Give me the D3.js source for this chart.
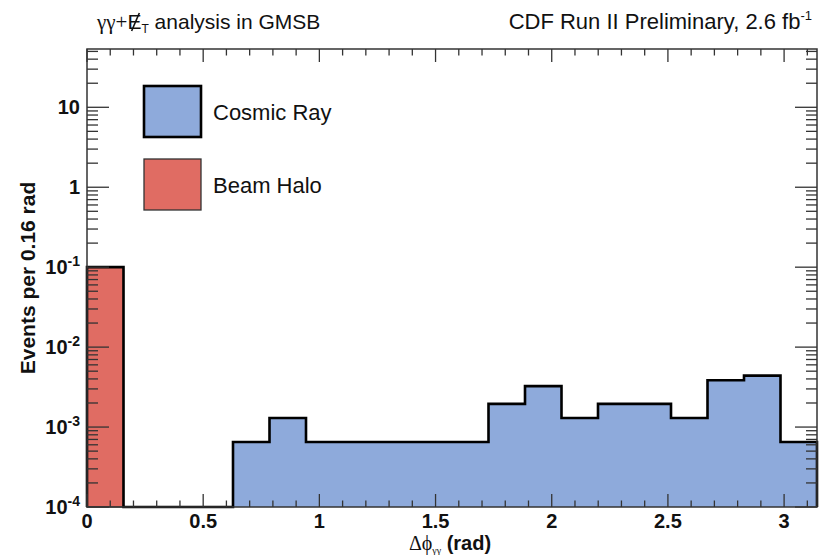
<!DOCTYPE html>
<html>
<head>
<meta charset="utf-8">
<script src="https://cdn.jsdelivr.net/npm/d3@7"></script>
<style>
  body { margin: 0; background: #fff; }
  text { font-family: "Liberation Sans", Arial, sans-serif; fill: #111; }
</style>
</head>
<body>
<div id="chart"></div>
<script>
// histogram content, 20 bins over [0, pi]
const nBins = 20;
const xMax = Math.PI;
const cosmicRay = [0, 0, 0, 0, 6.5e-4, 1.3e-3, 6.5e-4, 6.5e-4, 6.5e-4, 6.5e-4,
	6.5e-4, 1.95e-3, 3.25e-3, 1.3e-3, 1.95e-3, 1.95e-3, 1.3e-3, 3.85e-3, 4.4e-3, 6.5e-4];
const beamHalo = [0.1, 0, 0, 0, 0, 0, 0, 0, 0, 0, 0, 0, 0, 0, 0, 0, 0, 0, 0, 0];
const xTickLabels = [0, 0.5, 1, 1.5, 2, 2.5, 3];
const yDecades = [-4, -3, -2, -1, 0, 1];
const legendItems = ["Cosmic Ray", "Beam Halo"];

const width = 822, height = 555;
const margin = { left: 87, right: 5, top: 49, bottom: 48 };
const blue = "#8eaadb", red = "#e06c63";

const svg = d3.select("#chart").append("svg")
	.attr("width", width)
	.attr("height", height);

const x = d3.scaleLinear().domain([0, xMax]).range([margin.left, width - margin.right]);
const y = d3.scaleLog().domain([1e-4, 53.6]).range([height - margin.bottom, margin.top]).clamp(true);

const binW = xMax / nBins;
const stacked = cosmicRay.map((c, i) => c + beamHalo[i]);

function stepPath(vals) {
	let p = `M${x(0)},${y.range()[0]}`;
	vals.forEach((v, i) => {
		const yy = v > 0 ? y(v) : y.range()[0];
		p += `L${x(i * binW)},${yy}L${x((i + 1) * binW)},${yy}`;
	});
	p += `L${x(xMax)},${y.range()[0]}`;
	return p;
}

// stacked total (cosmic on top of halo)
svg.append("path")
	.attr("d", stepPath(stacked) + "Z")
	.attr("fill", blue)
	.attr("stroke", "none");

// beam halo
beamHalo.forEach((v, i) => {
	if (v <= 0) return;
	svg.append("rect")
		.attr("x", x(i * binW))
		.attr("y", y(v))
		.attr("width", x((i + 1) * binW) - x(i * binW))
		.attr("height", y.range()[0] - y(v))
		.attr("fill", red)
		.attr("stroke", "#333")
		.attr("stroke-width", 1.2);
});

svg.append("path")
	.attr("d", stepPath(stacked))
	.attr("fill", "none")
	.attr("stroke", "#000")
	.attr("stroke-width", 2.6);

// frame and ticks
const x0 = x.range()[0], x1 = x.range()[1];
const yb = y.range()[0], yt = y.range()[1];
const axisColor = "#333";
const g = svg.append("g").attr("stroke", axisColor).attr("stroke-width", 1.3);

d3.range(0, 32).map((i) => i / 10).filter((v) => v <= xMax).forEach((v) => {
	const major = Math.abs(v * 2 - Math.round(v * 2)) < 1e-6;
	const len = major ? 13 : 6.5;
	g.append("line").attr("x1", x(v)).attr("x2", x(v)).attr("y1", yb).attr("y2", yb - len);
	g.append("line").attr("x1", x(v)).attr("x2", x(v)).attr("y1", yt).attr("y2", yt + len);
});

yDecades.forEach((d) => {
	for (let m = 1; m <= 9; m++) {
		const v = m * Math.pow(10, d);
		if (v > y.domain()[1]) break;
		const len = m === 1 ? 22 : 11;
		g.append("line").attr("x1", x0).attr("x2", x0 + len).attr("y1", y(v)).attr("y2", y(v));
		g.append("line").attr("x1", x1).attr("x2", x1 - len).attr("y1", y(v)).attr("y2", y(v));
	}
});

svg.append("rect")
	.attr("x", x0).attr("y", yt)
	.attr("width", x1 - x0).attr("height", yb - yt)
	.attr("fill", "none")
	.attr("stroke", axisColor)
	.attr("stroke-width", 1.5);

// x tick labels
svg.selectAll(".xl").data(xTickLabels).enter().append("text")
	.attr("x", (d) => x(d))
	.attr("y", 528)
	.attr("text-anchor", "middle")
	.style("font-size", "20px")
	.style("font-weight", "bold")
	.text((d) => d);

// y tick labels
yDecades.forEach((d) => {
	const t = svg.append("text")
		.attr("x", 80)
		.attr("y", y(Math.pow(10, d)) + 7)
		.attr("text-anchor", "end")
		.style("font-size", "20px")
		.style("font-weight", "bold");
	if (d === 0) t.text("1");
	else if (d === 1) t.text("10");
	else {
		t.append("tspan").text("10");
		t.append("tspan").attr("dy", -8).style("font-size", "14px").text(d);
	}
});

// axis titles
svg.append("text")
	.attr("transform", `translate(35,${(yt + yb) / 2}) rotate(-90)`)
	.attr("text-anchor", "middle")
	.style("font-size", "21px")
	.style("font-weight", "bold")
	.text("Events per 0.16 rad");

const xt = svg.append("text")
	.attr("x", 450)
	.attr("y", 550)
	.attr("text-anchor", "middle")
	.style("font-size", "20px");
xt.append("tspan").style("font-family", "Liberation Serif, serif").text("Δϕ");
xt.append("tspan").attr("dy", 4).style("font-size", "10px").style("font-family", "Liberation Serif, serif").text("γγ");
xt.append("tspan").attr("dy", -4).style("font-weight", "bold").text(" (rad)");

// titles
const tl = svg.append("text").attr("x", 97).attr("y", 29).style("font-size", "21px");
tl.append("tspan").style("font-family", "Liberation Serif, serif").text("γγ+");
const eSpan = tl.append("tspan").text("E");
tl.append("tspan").attr("dy", 4).style("font-size", "12px").text("T");
tl.append("tspan").attr("dy", -4).text(" analysis in GMSB");

// slash through the E (missing transverse energy)
const eBox = eSpan.node().getExtentOfChar(0);
svg.append("line")
	.attr("x1", eBox.x + eBox.width * 0.85).attr("y1", 13)
	.attr("x2", eBox.x + eBox.width * 0.3).attr("y2", 31)
	.attr("stroke", "#111")
	.attr("stroke-width", 1.6);

const tr = svg.append("text").attr("x", 812).attr("y", 29).attr("text-anchor", "end").style("font-size", "22px");
tr.append("tspan").text("CDF Run II Preliminary, 2.6 fb");
tr.append("tspan").attr("dy", -9).style("font-size", "13px").text("-1");

// legend
const legendFill = [blue, red];
const legendStroke = [["#000", 2.6], ["#333", 1.3]];
legendItems.forEach((name, i) => {
	const top = 86 + i * 73;
	svg.append("rect")
		.attr("x", 144).attr("y", top)
		.attr("width", 57).attr("height", 51)
		.attr("fill", legendFill[i])
		.attr("stroke", legendStroke[i][0])
		.attr("stroke-width", legendStroke[i][1]);
	svg.append("text")
		.attr("x", 213).attr("y", top + 34)
		.style("font-size", "22px")
		.text(name);
});
</script>
</body>
</html>
